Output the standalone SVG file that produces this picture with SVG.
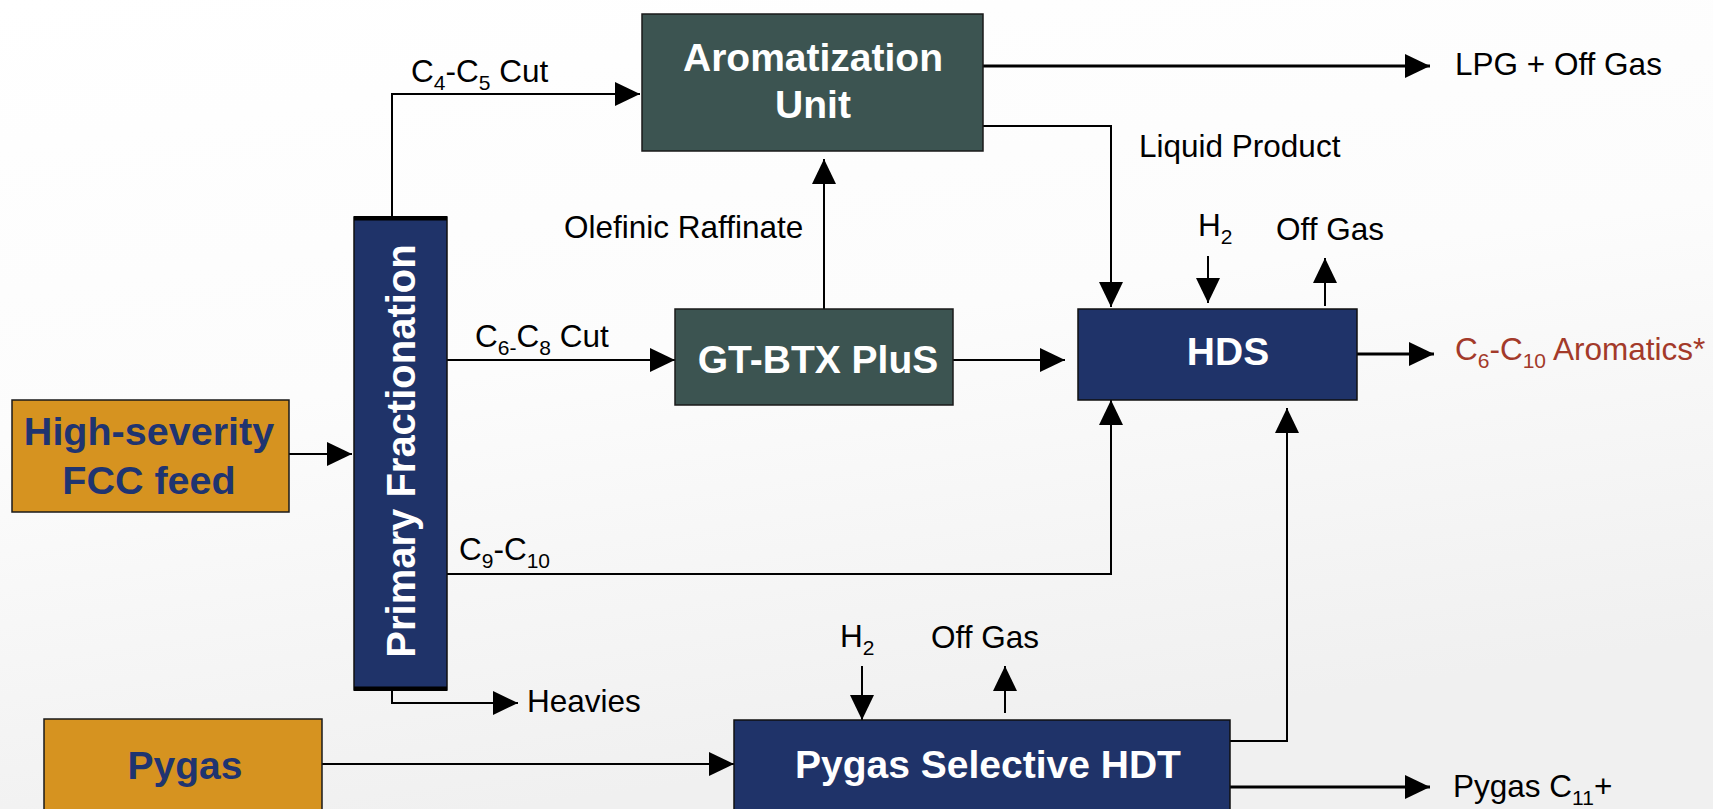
<svg xmlns="http://www.w3.org/2000/svg" width="1713" height="809" viewBox="0 0 1713 809">
<defs>
<linearGradient id="bg" x1="0" y1="0" x2="0.3" y2="1">
<stop offset="0" stop-color="#ffffff"/>
<stop offset="0.5" stop-color="#fcfcfc"/>
<stop offset="1" stop-color="#f0f0f0"/>
</linearGradient>
<marker id="ah" markerUnits="userSpaceOnUse" markerWidth="26" markerHeight="24" refX="25" refY="12" orient="auto" viewBox="0 0 26 24">
<path d="M0,0 L25,12 L0,24 z" fill="#000"/>
</marker>
<style>
.lbl{font-family:"Liberation Sans",Arial,sans-serif;font-size:31.5px;fill:#000}
.sub{font-size:21px}
.bx{font-family:"Liberation Sans",Arial,sans-serif;font-size:39px;font-weight:bold;fill:#fff;text-anchor:middle}
.bxo{fill:#1f3470}
.slate{fill:#3c5451;stroke:#1a1a1a;stroke-width:1.5}
.navy{fill:#1f3369;stroke:#111;stroke-width:1.5}
.gold{fill:#d69320;stroke:#1a1a1a;stroke-width:1.5}
.ln{fill:none;stroke:#000;stroke-width:2}
.arr{marker-end:url(#ah)}
</style>
</defs>
<rect x="0" y="0" width="1713" height="809" fill="url(#bg)"/>

<g id="connectors">
<path class="ln arr" d="M392,217 V94 H640"/>
<path class="ln arr" d="M447,360 H675"/>
<path class="ln arr" d="M447,574 H1111 V400"/>
<path class="ln arr" d="M392,690 V703 H518"/>
<path class="ln arr" d="M289,454 H352"/>
<path class="ln arr" d="M322,764 H734"/>
<path class="ln arr" d="M824,309 V159"/>
<path class="ln arr" d="M953,360 H1065"/>
<path class="ln arr" d="M983,66 H1430" style="stroke-width:3"/>
<path class="ln arr" d="M983,126 H1111 V307"/>
<path class="ln arr" d="M1208,256 V303"/>
<path class="ln arr" d="M1325,306 V258"/>
<path class="ln arr" d="M1357,354 H1434" style="stroke-width:3"/>
<path class="ln arr" d="M1230,741 H1287 V408"/>
<path class="ln arr" d="M862,666 V720"/>
<path class="ln arr" d="M1005,713 V666"/>
<path class="ln arr" d="M1230,787 H1430" style="stroke-width:3"/>
</g>

<g id="aromatization">
<rect class="slate" x="642" y="14" width="341" height="137"/>
<text class="bx" x="813" y="71">Aromatization</text>
<text class="bx" x="813" y="118">Unit</text>
</g>

<g id="gtbtx">
<rect class="slate" x="675" y="309" width="278" height="96"/>
<text class="bx" x="818" y="373">GT-BTX PluS</text>
</g>

<g id="hds">
<rect class="navy" x="1078" y="309" width="279" height="91"/>
<text class="bx" x="1228" y="365">HDS</text>
</g>

<g id="primary-fractionation">
<rect class="navy" x="354" y="217" width="93" height="473"/>
<rect x="354" y="216" width="93" height="4.5" fill="#000"/>
<rect x="354" y="686.5" width="93" height="4.5" fill="#000"/>
<text class="bx" style="font-size:40px" transform="translate(415,451) rotate(-90)" x="0" y="0">Primary Fractionation</text>
</g>

<g id="fcc-feed">
<rect class="gold" x="12" y="400" width="277" height="112"/>
<text class="bx bxo" x="149" y="445" style="font-size:39.5px">High-severity</text>
<text class="bx bxo" x="149" y="494" style="font-size:39.5px">FCC feed</text>
</g>

<g id="pygas">
<rect class="gold" x="44" y="719" width="278" height="100"/>
<text class="bx bxo" x="185" y="779">Pygas</text>
</g>

<g id="pygas-hdt">
<rect class="navy" x="734" y="720" width="496" height="100"/>
<text class="bx" x="988" y="778">Pygas Selective HDT</text>
</g>

<g id="labels">
<text class="lbl" x="411" y="82">C<tspan class="sub" dy="8">4</tspan><tspan dy="-8">-C</tspan><tspan class="sub" dy="8">5</tspan><tspan dy="-8"> Cut</tspan></text>
<text class="lbl" x="475" y="347">C<tspan class="sub" dy="8">6-</tspan><tspan dy="-8">C</tspan><tspan class="sub" dy="8">8</tspan><tspan dy="-8"> Cut</tspan></text>
<text class="lbl" x="564" y="238">Olefinic Raffinate</text>
<text class="lbl" x="1139" y="157">Liquid Product</text>
<text class="lbl" x="1198" y="236">H<tspan class="sub" dy="8">2</tspan></text>
<text class="lbl" x="1276" y="240">Off Gas</text>
<text class="lbl" x="1455" y="75">LPG + Off Gas</text>
<text class="lbl" x="1455" y="360" style="fill:#a33a2a">C<tspan class="sub" dy="8">6</tspan><tspan dy="-8">-C</tspan><tspan class="sub" dy="8">10</tspan><tspan dy="-8"> Aromatics*</tspan></text>
<text class="lbl" x="459" y="560">C<tspan class="sub" dy="8">9</tspan><tspan dy="-8">-C</tspan><tspan class="sub" dy="8">10</tspan></text>
<text class="lbl" x="527" y="712">Heavies</text>
<text class="lbl" x="840" y="647">H<tspan class="sub" dy="8">2</tspan></text>
<text class="lbl" x="931" y="648">Off Gas</text>
<text class="lbl" x="1453" y="797">Pygas C<tspan class="sub" dy="8">11</tspan><tspan dy="-8">+</tspan></text>
</g>
</svg>
